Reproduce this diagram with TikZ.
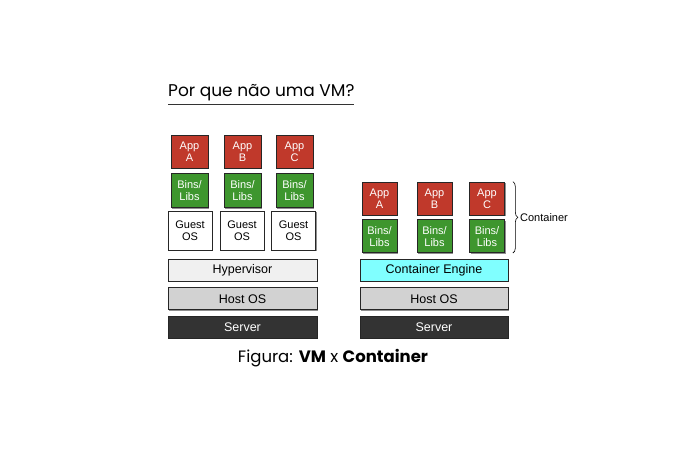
\documentclass[tikz,border=0pt]{standalone}
\usepackage{fontspec}
\setmainfont{Liberation Sans}
\newfontfamily\titlefont{Poppins}
\usepackage{tikz}
\usetikzlibrary{positioning,shadows,decorations.pathreplacing}

\definecolor{app-red}{RGB}{192,57,43}
\definecolor{lib-green}{RGB}{62,150,46}
\definecolor{eng-cyan}{RGB}{128,255,255}
\definecolor{hyp-gray}{RGB}{240,240,240}
\definecolor{host-gray}{RGB}{210,210,210}
\definecolor{srv-dark}{RGB}{51,51,51}

\begin{document}
\begin{tikzpicture}
[
x=1pt, y=-1pt,
box-a/.style={draw=black!85, line width=0.7pt, inner sep=0pt, align=center,
  font=\fontsize{11}{12}\selectfont,
  drop shadow={shadow xshift=1pt, shadow yshift=-1pt, fill=black!55, opacity=0.8}},
app-a/.style={box-a, fill=app-red, text=white, minimum width=37pt, minimum height=33pt},
lib-a/.style={box-a, fill=lib-green, text=white, minimum width=37pt, minimum height=34pt},
guest-a/.style={box-a, fill=white, minimum width=44pt, minimum height=39pt},
layer-a/.style={box-a, minimum width=149pt, minimum height=22pt, font=\fontsize{12.5}{13}\selectfont},
text-a/.style={black, inner sep=0pt}
]
\useasboundingbox (0,0) rectangle (677,462);
% title
\node (title)    [text-a, anchor=south west] at (168,101) {\titlefont\fontsize{17}{19}\selectfont Por que não uma VM?};
\draw [black!80, line width=0.8pt] (168,104) -- (354,104);
% VM stack
\node (app-a-l)  [app-a] at (189.5,151.5)          {App\\A};
\node (lib-a-l)  [lib-a, below = 5pt of app-a-l]   {Bins/\\Libs};
\node (app-b-l)  [app-a] at (242.5,151.5)          {App\\B};
\node (lib-b-l)  [lib-a, below = 5pt of app-b-l]   {Bins/\\Libs};
\node (app-c-l)  [app-a] at (294.5,151.5)          {App\\C};
\node (lib-c-l)  [lib-a, below = 5pt of app-c-l]   {Bins/\\Libs};
\node (guest-a)  [guest-a] at (190,230.5)          {Guest\\OS};
\node (guest-b)  [guest-a] at (242,230.5)          {Guest\\OS};
\node (guest-c)  [guest-a] at (293.5,230.5)        {Guest\\OS};
\node (hyper)    [layer-a, fill=hyp-gray] at (242.5,270)          {Hypervisor};
\node (host-l)   [layer-a, fill=host-gray, below = 6pt of hyper]  {Host OS};
\node (srv-l)    [layer-a, fill=srv-dark, text=white, below = 6pt of host-l] {Server};
% container stack
\node (app-a-r)  [app-a, minimum width=35pt] at (379.5,198.5)       {App\\A};
\node (lib-a-r)  [lib-a, minimum width=35pt, minimum height=33pt, below = 4pt of app-a-r] {Bins/\\Libs};
\node (app-b-r)  [app-a, minimum width=35pt] at (434.5,198.5)       {App\\B};
\node (lib-b-r)  [lib-a, minimum width=35pt, minimum height=33pt, below = 4pt of app-b-r] {Bins/\\Libs};
\node (app-c-r)  [app-a, minimum width=35pt] at (487,198.5)         {App\\C};
\node (lib-c-r)  [lib-a, minimum width=35pt, minimum height=33pt, below = 4pt of app-c-r] {Bins/\\Libs};
\node (engine)   [layer-a, minimum width=148pt, fill=eng-cyan] at (434,270) {Container Engine};
\node (host-r)   [layer-a, minimum width=148pt, fill=host-gray, below = 6pt of engine] {Host OS};
\node (srv-r)    [layer-a, minimum width=148pt, fill=srv-dark, text=white, below = 6pt of host-r] {Server};
% brace
\coordinate (brace-t) at ([xshift=8pt]app-c-r.north east);
\coordinate (brace-b) at ([xshift=8pt]lib-c-r.south east);
\draw [decorate, decoration={brace, amplitude=5pt}, line width=0.6pt] (brace-t) -- (brace-b)
  node (cont-lb) [text-a, midway, right=7pt, font=\fontsize{11}{12}\selectfont] {Container};
% caption
\node (caption)  [text-a] at (333,358) {\titlefont\fontsize{16.5}{18}\selectfont Figura: \textbf{VM} x \textbf{Container}};
\end{tikzpicture}
\end{document}
